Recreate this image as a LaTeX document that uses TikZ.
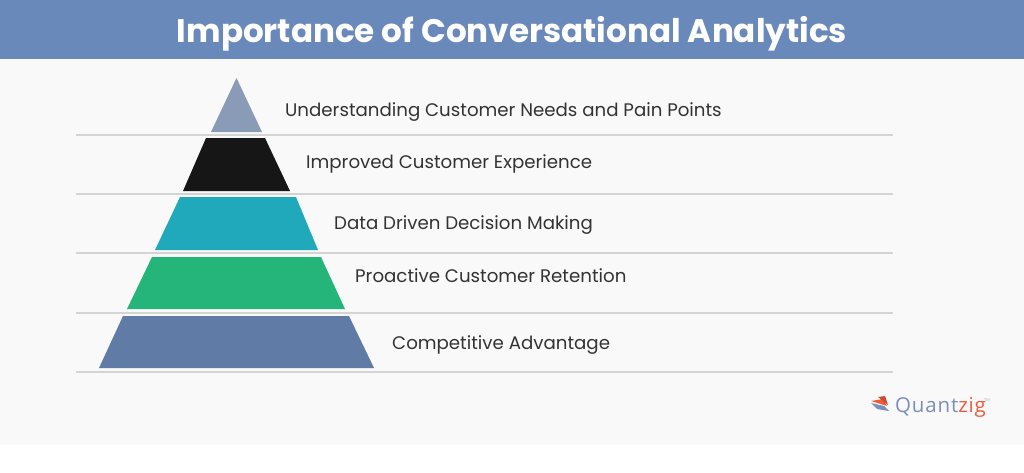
\documentclass[tikz,border=0pt]{standalone}
\usepackage{fontspec}
\setmainfont{Poppins}
\newfontfamily\logofont{Open Sans}[LetterSpace=4]
\definecolor{titlebar}{HTML}{6A89BB}
\definecolor{bgc}{HTML}{F9F9F9}
\definecolor{sepc}{HTML}{D4D4D4}
\definecolor{tieronec}{HTML}{899BB6}
\definecolor{tiertwoc}{HTML}{161616}
\definecolor{tierthreec}{HTML}{1FA9BA}
\definecolor{tierfourc}{HTML}{25B57A}
\definecolor{tierfivec}{HTML}{5F7BA6}
\definecolor{labelc}{HTML}{333333}
\definecolor{logoblue}{HTML}{7B8FB8}
\definecolor{logored}{HTML}{EF5A3C}
\tikzset{
  lbl/.style={anchor=base west, inner sep=0pt, text=labelc, font=\fontsize{18.2}{20}\selectfont},
  sep/.style={draw=sepc, line width=1.2pt},
}
\begin{document}
\begin{tikzpicture}[x=1pt,y=-1pt]
\useasboundingbox (0,0) rectangle (1024,472);
\fill[white] (0,0) rectangle (1024,472);
\fill[bgc] (0,0) rectangle (1024,445);
\fill[titlebar] (0,0) rectangle (1024,59);
\node[text=white, font=\bfseries\fontsize{32.6}{38}\selectfont, anchor=base, inner sep=0pt] (title) at (512,42) {Importance of Conversational Analytics};
% separators
\foreach \yy in {135,194,253,313,372} \draw[sep] (76,\yy) -- (893,\yy);
% tiers
\fill[tieronec] (236.5,78) -- (262,132) -- (211,132) -- cycle;
\fill[tiertwoc] (206,138) -- (265,138) -- (290,191) -- (183,191) -- cycle;
\fill[tierthreec] (180,197) -- (296,197) -- (318,250) -- (155,250) -- cycle;
\fill[tierfourc] (152,257) -- (321,257) -- (345,309) -- (127,309) -- cycle;
\fill[tierfivec] (123,316) -- (349,316) -- (374,368) -- (99,368) -- cycle;
% labels
\node[lbl] (l1) at (285,116) {Understanding Customer Needs and Pain Points};
\node[lbl] (l2) at (306,168) {Improved Customer Experience};
\node[lbl] (l3) at (334,229) {Data Driven Decision Making};
\node[lbl] (l4) at (355,282) {Proactive Customer Retention};
\node[lbl] (l5) at (392,349) {Competitive Advantage};
% logo
\fill[logored] (871,401) -- (883,399) -- (887,406) -- cycle;
\fill[logored!85!black] (878,397) -- (885,396) -- (888,405) -- cycle;
\fill[logoblue] (871,403) -- (884,406) -- (889,411) -- (877,409) -- cycle;
\node[anchor=base west, inner sep=0pt, font=\logofont\fontsize{20.5}{22}\selectfont] (logo) at (895,412) {\textcolor{logoblue}{Quant}\textcolor{logored}{zig}};
\node[anchor=base west, inner sep=0pt, text=logoblue!70, font=\fontsize{4}{5}\selectfont] (tm) at (984,401) {TM};
\end{tikzpicture}
\end{document}
